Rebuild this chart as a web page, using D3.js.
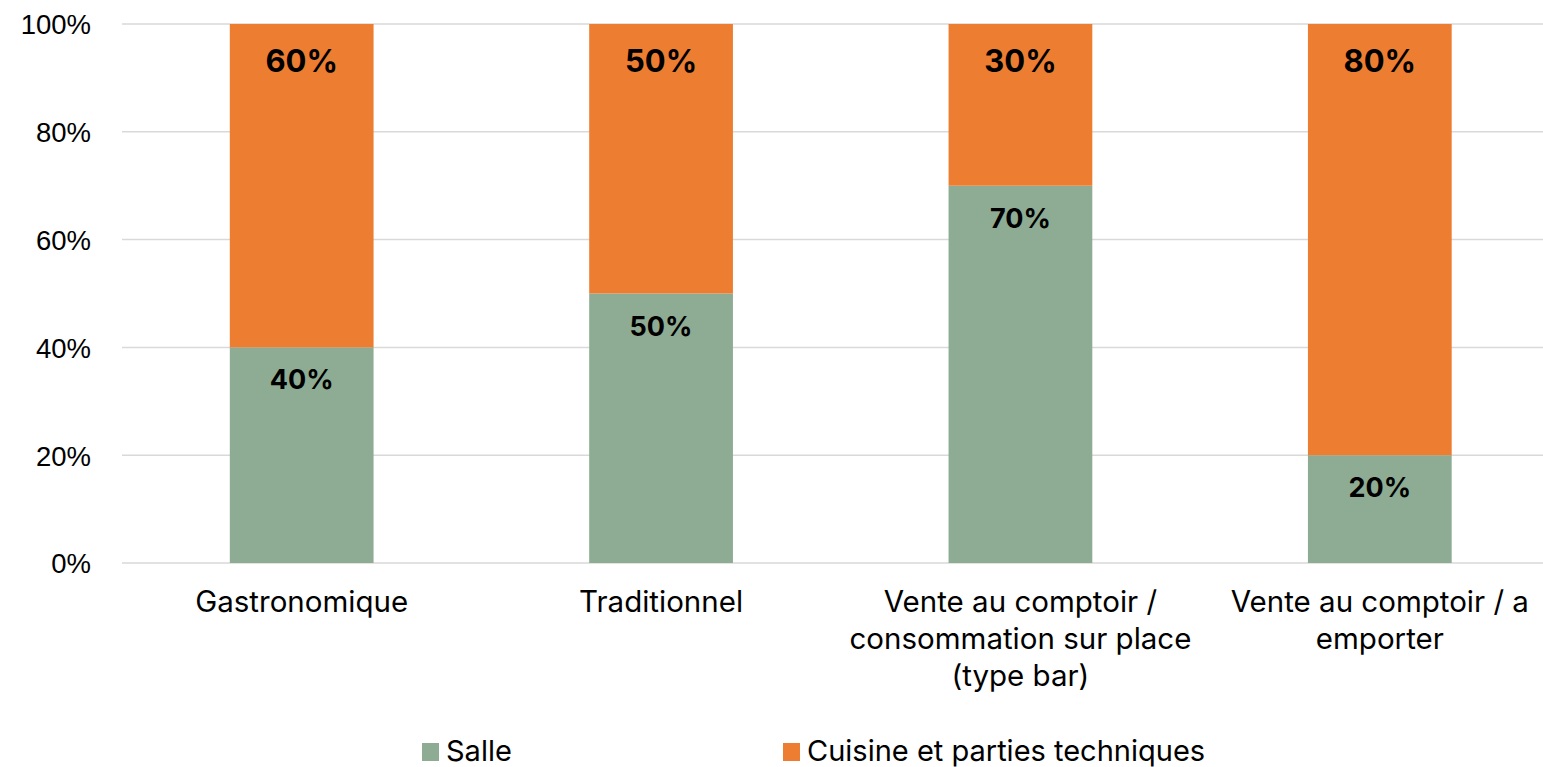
<!DOCTYPE html>
<html>
<head>
<meta charset="utf-8">
<script src="https://cdn.jsdelivr.net/npm/d3@7"></script>
<style>
  body { margin: 0; background: #fff; }
  svg { display: block; font-family: Inter, "Liberation Sans", sans-serif; }
</style>
</head>
<body>
<script>
// categories (each label split into its lines)
const categories = ['Gastronomique', 'Traditionnel', 'Vente au comptoir / consommation sur place (type bar)', 'Vente au comptoir / a emporter'];
const categoryLines = [
  ['Gastronomique'],
  ['Traditionnel'],
  ['Vente au comptoir /', 'consommation sur place', '(type bar)'],
  ['Vente au comptoir / a', 'emporter']
];
const salle = [0.4, 0.5, 0.7, 0.2];
const cuisine = [0.6, 0.5, 0.3, 0.8];
const seriesNames = ['Salle', 'Cuisine et parties techniques'];
const yTicks = [0, 0.2, 0.4, 0.6, 0.8, 1];

const width = 1543;
const height = 767;
const colors = ['#8EAC93', '#ED7D31'];

const svg = d3.select('body').append('svg')
  .attr('width', width)
  .attr('height', height);

const xScale = d3.scaleBand()
  .domain(categories)
  .range([122, 1559.5])
  .paddingInner(0.6)
  .paddingOuter(0.3);

const yScale = d3.scaleLinear()
  .domain([0, 1])
  .range([563, 24]);

// gridlines
svg.append('g')
  .attr('class', 'grid')
  .selectAll('line')
  .data(yTicks)
  .enter()
  .append('line')
  .attr('x1', 122)
  .attr('x2', width)
  .attr('y1', (d) => yScale(d))
  .attr('y2', (d) => yScale(d))
  .attr('stroke', '#d9d9d9')
  .attr('stroke-width', 1.5);

// y axis
const yAxis = d3.axisLeft(yScale)
  .tickValues(yTicks)
  .tickFormat(d3.format('.0%'))
  .tickSize(0)
  .tickPadding(0);

svg.append('g')
  .attr('class', 'y-axis')
  .attr('transform', 'translate(91,0)')
  .call(yAxis)
  .call((g) => g.select('.domain').remove())
  .selectAll('text')
  .attr('font-size', 27.5)
  .attr('font-family', null)
  .attr('fill', '#000')
  .attr('dy', '0.36em');

// stacked data
const rows = categories.map((c, i) => ({ category: c, salle: salle[i], cuisine: cuisine[i] }));
const stack = d3.stack().keys(['salle', 'cuisine']);
const stacked = stack(rows);

const layers = svg.append('g')
  .attr('class', 'bars')
  .selectAll('g')
  .data(stacked)
  .enter()
  .append('g')
  .attr('fill', (d, i) => colors[i]);

layers.selectAll('rect')
  .data((d) => d)
  .enter()
  .append('rect')
  .attr('x', (d) => xScale(d.data.category))
  .attr('y', (d) => yScale(d[1]))
  .attr('width', xScale.bandwidth())
  .attr('height', (d) => yScale(d[0]) - yScale(d[1]));

// value labels near the top of each segment
const labelSizes = [27, 31];
const labelOffsets = [42, 48];
layers.each(function (layer, li) {
  d3.select(this).selectAll('text')
    .data(layer)
    .enter()
    .append('text')
    .attr('x', (d) => xScale(d.data.category) + xScale.bandwidth() / 2)
    .attr('y', (d) => yScale(d[1]) + labelOffsets[li])
    .attr('text-anchor', 'middle')
    .attr('font-size', labelSizes[li])
    .attr('font-weight', 'bold')
    .attr('fill', '#000')
    .text((d) => d3.format('.0%')(d[1] - d[0]));
});

// category labels
const xLabels = svg.append('g')
  .attr('class', 'x-labels')
  .selectAll('text')
  .data(categories)
  .enter()
  .append('text')
  .attr('x', (d) => xScale(d) + xScale.bandwidth() / 2)
  .attr('y', 612)
  .attr('text-anchor', 'middle')
  .attr('font-size', 29.5)
  .attr('fill', '#000');

xLabels.selectAll('tspan')
  .data((d, i) => categoryLines[i])
  .enter()
  .append('tspan')
  .attr('x', function () { return d3.select(this.parentNode).attr('x'); })
  .attr('dy', (d, i) => (i === 0 ? 0 : 37))
  .text((d) => d);

// legend
const legendX = [422, 783];
const legend = svg.append('g')
  .attr('class', 'legend')
  .selectAll('g')
  .data(seriesNames)
  .enter()
  .append('g')
  .attr('transform', (d, i) => 'translate(' + legendX[i] + ',743)');

legend.append('rect')
  .attr('width', 17)
  .attr('height', 18)
  .attr('fill', (d, i) => colors[i]);

legend.append('text')
  .attr('x', 24)
  .attr('y', 18)
  .attr('font-size', 29)
  .attr('fill', '#000')
  .text((d) => d);
</script>
</body>
</html>
